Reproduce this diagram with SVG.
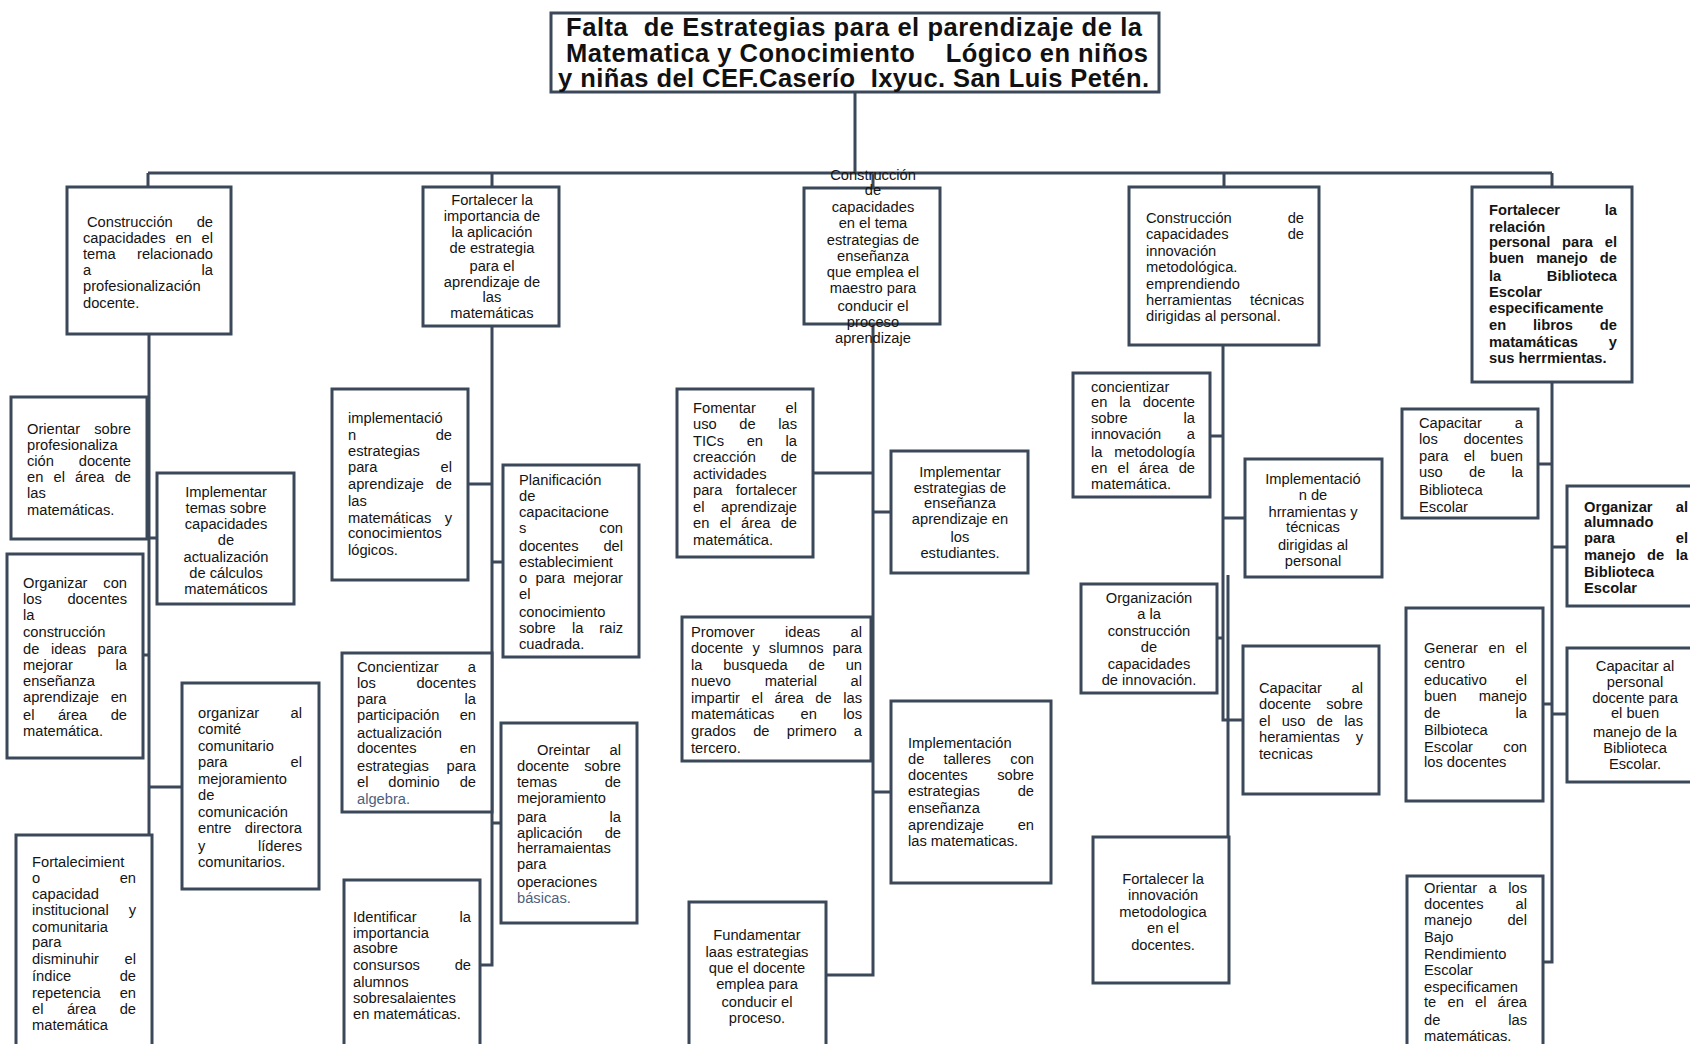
<svg xmlns="http://www.w3.org/2000/svg" width="1690" height="1044" viewBox="0 0 1690 1044">
<style>
.bx{fill:#fff;stroke:#3b4859;stroke-width:3}
.ln{fill:none;stroke:#3b4859;stroke-width:3}
text{font-family:"Liberation Sans",Arial,sans-serif;font-size:14.7px;fill:#141414}
.c{text-anchor:middle}
.e{text-anchor:end}
.b{font-weight:bold}
.ti{font-size:25.5px;font-weight:bold;fill:#111}
.bl{fill:#4d5f7e}
</style>
<rect width="1690" height="1044" fill="#fff"/>
<g id="connectors">
<path class="ln" d="M855 92V173M148 173H1552M148 173V187M492 173V187M873 173V188M1224 173V187M1552 173V187"/>
<path class="ln" d="M149 334V835M149 538H157M143 655H149M149 787H182"/>
<path class="ln" d="M492 326V965H480M468 484H492M492 562H503M492 823H501"/>
<path class="ln" d="M873 324V975H826M813 473H873M873 512H891M873 792H891"/>
<path class="ln" d="M1223 345V720H1243M1228 575V837M1210 436H1223M1223 518H1245M1217 638H1223"/>
<path class="ln" d="M1552 382V962H1543M1538 464H1552M1552 547H1567M1543 704H1552M1552 714H1567"/>
</g>
<g id="title">
<rect class="bx" x="551" y="13" width="608" height="79"/>
<text class="ti" x="566" y="36" textLength="576" lengthAdjust="spacing" xml:space="preserve">Falta  de Estrategias para el parendizaje de la</text>
<text class="ti" x="566" y="62" textLength="582" lengthAdjust="spacing" xml:space="preserve">Matematica y Conocimiento    Lógico en niños</text>
<text class="ti" x="558" y="87" textLength="591" lengthAdjust="spacing" xml:space="preserve">y niñas del CEF.Caserío  Ixyuc. San Luis Petén.</text>
</g>
<g id="n1">
<rect class="bx" x="67" y="187" width="164" height="147"/>
<text x="87" y="227">Construcción</text><text class="e" x="213" y="227">de</text>
<text x="83" y="243">capacidades</text><text x="175.4" y="243">en</text><text class="e" x="213" y="243">el</text>
<text x="83" y="259">tema</text><text class="e" x="213" y="259">relacionado</text>
<text x="83" y="275">a</text><text class="e" x="213" y="275">la</text>
<text x="83" y="291">profesionalización</text>
<text x="83" y="308">docente.</text>
</g>
<g id="n1a">
<rect class="bx" x="11" y="397" width="136" height="142"/>
<text x="27" y="434">Orientar</text><text class="e" x="131" y="434">sobre</text>
<text x="27" y="450">profesionaliza</text>
<text x="27" y="466">ción</text><text class="e" x="131" y="466">docente</text>
<text x="27" y="482">en</text><text x="53.5" y="482">el</text><text x="75.1" y="482">área</text><text class="e" x="131" y="482">de</text>
<text x="27" y="498">las</text>
<text x="27" y="515">matemáticas.</text>
</g>
<g id="n1b">
<rect class="bx" x="157" y="473" width="137" height="131"/>
<text class="c" x="226" y="497">Implementar</text>
<text class="c" x="226" y="513">temas sobre</text>
<text class="c" x="226" y="529">capacidades</text>
<text class="c" x="226" y="545">de</text>
<text class="c" x="226" y="562">actualización</text>
<text class="c" x="226" y="578">de cálculos</text>
<text class="c" x="226" y="594">matemáticos</text>
</g>
<g id="n1c">
<rect class="bx" x="7" y="554" width="136" height="204"/>
<text x="23" y="588">Organizar</text><text class="e" x="127" y="588">con</text>
<text x="23" y="604">los</text><text class="e" x="127" y="604">docentes</text>
<text x="23" y="620">la</text>
<text x="23" y="637">construcción</text>
<text x="23" y="654">de</text><text x="50.9" y="654">ideas</text><text class="e" x="127" y="654">para</text>
<text x="23" y="670">mejorar</text><text class="e" x="127" y="670">la</text>
<text x="23" y="686">enseñanza</text>
<text x="23" y="702">aprendizaje</text><text class="e" x="127" y="702">en</text>
<text x="23" y="720">el</text><text x="57.9" y="720">área</text><text class="e" x="127" y="720">de</text>
<text x="23" y="736">matemática.</text>
</g>
<g id="n1d">
<rect class="bx" x="182" y="683" width="137" height="206"/>
<text x="198" y="718">organizar</text><text class="e" x="302" y="718">al</text>
<text x="198" y="734">comité</text>
<text x="198" y="751">comunitario</text>
<text x="198" y="767">para</text><text class="e" x="302" y="767">el</text>
<text x="198" y="784">mejoramiento</text>
<text x="198" y="800">de</text>
<text x="198" y="817">comunicación</text>
<text x="198" y="833">entre</text><text class="e" x="302" y="833">directora</text>
<text x="198" y="851">y</text><text class="e" x="302" y="851">líderes</text>
<text x="198" y="867">comunitarios.</text>
</g>
<g id="n1e">
<rect class="bx" x="16" y="835" width="136" height="220"/>
<text x="32" y="867">Fortalecimient</text>
<text x="32" y="883">o</text><text class="e" x="136" y="883">en</text>
<text x="32" y="899">capacidad</text>
<text x="32" y="915">institucional</text><text class="e" x="136" y="915">y</text>
<text x="32" y="932">comunitaria</text>
<text x="32" y="947">para</text>
<text x="32" y="964">disminuhir</text><text class="e" x="136" y="964">el</text>
<text x="32" y="981">índice</text><text class="e" x="136" y="981">de</text>
<text x="32" y="998">repetencia</text><text class="e" x="136" y="998">en</text>
<text x="32" y="1014">el</text><text x="66.9" y="1014">área</text><text class="e" x="136" y="1014">de</text>
<text x="32" y="1030">matemática</text>
</g>
<g id="n2">
<rect class="bx" x="423" y="187" width="136" height="139"/>
<text class="c" x="492" y="205">Fortalecer la</text>
<text class="c" x="492" y="221">importancia de</text>
<text class="c" x="492" y="237">la aplicación</text>
<text class="c" x="492" y="253">de estrategia</text>
<text class="c" x="492" y="271">para el</text>
<text class="c" x="492" y="287">aprendizaje de</text>
<text class="c" x="492" y="302">las</text>
<text class="c" x="492" y="318">matemáticas</text>
</g>
<g id="n2a">
<rect class="bx" x="332" y="389" width="136" height="191"/>
<text x="348" y="423">implementació</text>
<text x="348" y="440">n</text><text class="e" x="452" y="440">de</text>
<text x="348" y="456">estrategias</text>
<text x="348" y="472">para</text><text class="e" x="452" y="472">el</text>
<text x="348" y="489">aprendizaje</text><text class="e" x="452" y="489">de</text>
<text x="348" y="506">las</text>
<text x="348" y="523">matemáticas</text><text class="e" x="452" y="523">y</text>
<text x="348" y="538">conocimientos</text>
<text x="348" y="555">lógicos.</text>
</g>
<g id="n2b">
<rect class="bx" x="503" y="465" width="136" height="192"/>
<text x="519" y="485">Planificación</text>
<text x="519" y="501">de</text>
<text x="519" y="517">capacitacione</text>
<text x="519" y="533">s</text><text class="e" x="623" y="533">con</text>
<text x="519" y="551">docentes</text><text class="e" x="623" y="551">del</text>
<text x="519" y="567">establecimient</text>
<text x="519" y="583">o</text><text x="535.5" y="583">para</text><text class="e" x="623" y="583">mejorar</text>
<text x="519" y="599">el</text>
<text x="519" y="617">conocimiento</text>
<text x="519" y="633">sobre</text><text x="571.9" y="633">la</text><text class="e" x="623" y="633">raiz</text>
<text x="519" y="649">cuadrada.</text>
</g>
<g id="n2c">
<rect class="bx" x="342" y="653" width="150" height="159"/>
<text x="357" y="672">Concientizar</text><text class="e" x="476" y="672">a</text>
<text x="357" y="688">los</text><text class="e" x="476" y="688">docentes</text>
<text x="357" y="704">para</text><text class="e" x="476" y="704">la</text>
<text x="357" y="720">participación</text><text class="e" x="476" y="720">en</text>
<text x="357" y="738">actualización</text>
<text x="357" y="753">docentes</text><text class="e" x="476" y="753">en</text>
<text x="357" y="771">estrategias</text><text class="e" x="476" y="771">para</text>
<text x="357" y="787">el</text><text x="388.3" y="787">dominio</text><text class="e" x="476" y="787">de</text>
<text class="bl" x="357" y="804">algebra.</text>
</g>
<g id="n2d">
<rect class="bx" x="501" y="723" width="136" height="200"/>
<text x="537" y="755">Oreintar</text><text class="e" x="621" y="755">al</text>
<text x="517" y="771">docente</text><text class="e" x="621" y="771">sobre</text>
<text x="517" y="787">temas</text><text class="e" x="621" y="787">de</text>
<text x="517" y="803">mejoramiento</text>
<text x="517" y="822">para</text><text class="e" x="621" y="822">la</text>
<text x="517" y="838">aplicación</text><text class="e" x="621" y="838">de</text>
<text x="517" y="853">herramaientas</text>
<text x="517" y="869">para</text>
<text x="517" y="887">operaciones</text>
<text class="bl" x="517" y="903">básicas.</text>
</g>
<g id="n2e">
<rect class="bx" x="344" y="880" width="136" height="175"/>
<text x="353" y="922">Identificar</text><text class="e" x="471" y="922">la</text>
<text x="353" y="938">importancia</text>
<text x="353" y="953">asobre</text>
<text x="353" y="970">consursos</text><text class="e" x="471" y="970">de</text>
<text x="353" y="987">alumnos</text>
<text x="353" y="1003">sobresalaientes</text>
<text x="353" y="1019">en matemáticas.</text>
</g>
<g id="n3">
<rect class="bx" x="804" y="188" width="136" height="136"/>
<text class="c" x="873" y="180">Construcción</text>
<text class="c" x="873" y="195">de</text>
<text class="c" x="873" y="212">capacidades</text>
<text class="c" x="873" y="228">en el tema</text>
<text class="c" x="873" y="245">estrategias de</text>
<text class="c" x="873" y="261">enseñanza</text>
<text class="c" x="873" y="277">que emplea el</text>
<text class="c" x="873" y="293">maestro para</text>
<text class="c" x="873" y="311">conducir el</text>
<text class="c" x="873" y="327">proceso</text>
<text class="c" x="873" y="343">aprendizaje</text>
</g>
<g id="n3a">
<rect class="bx" x="677" y="389" width="136" height="168"/>
<text x="693" y="413">Fomentar</text><text class="e" x="797" y="413">el</text>
<text x="693" y="429">uso</text><text x="739.3" y="429">de</text><text class="e" x="797" y="429">las</text>
<text x="693" y="446">TICs</text><text x="746.7" y="446">en</text><text class="e" x="797" y="446">la</text>
<text x="693" y="462">creacción</text><text class="e" x="797" y="462">de</text>
<text x="693" y="479">actividades</text>
<text x="693" y="495">para</text><text class="e" x="797" y="495">fortalecer</text>
<text x="693" y="512">el</text><text class="e" x="797" y="512">aprendizaje</text>
<text x="693" y="528">en</text><text x="719.5" y="528">el</text><text x="741.1" y="528">área</text><text class="e" x="797" y="528">de</text>
<text x="693" y="545">matemática.</text>
</g>
<g id="n3b">
<rect class="bx" x="891" y="451" width="137" height="122"/>
<text class="c" x="960" y="477">Implementar</text>
<text class="c" x="960" y="493">estrategias de</text>
<text class="c" x="960" y="508">enseñanza</text>
<text class="c" x="960" y="524">aprendizaje en</text>
<text class="c" x="960" y="542">los</text>
<text class="c" x="960" y="558">estudiantes.</text>
</g>
<g id="n3c">
<rect class="bx" x="682" y="617" width="189" height="144"/>
<text x="691" y="637">Promover</text><text x="785.1" y="637">ideas</text><text class="e" x="862" y="637">al</text>
<text x="691" y="653">docente</text><text x="752.4" y="653">y</text><text x="768.8" y="653">slumnos</text><text class="e" x="862" y="653">para</text>
<text x="691" y="670">la</text><text x="723.2" y="670">busqueda</text><text x="808.6" y="670">de</text><text class="e" x="862" y="670">un</text>
<text x="691" y="686">nuevo</text><text x="764.7" y="686">material</text><text class="e" x="862" y="686">al</text>
<text x="691" y="703">impartir</text><text x="751.5" y="703">el</text><text x="774.4" y="703">área</text><text x="815.3" y="703">de</text><text class="e" x="862" y="703">las</text>
<text x="691" y="719">matemáticas</text><text x="800.6" y="719">en</text><text class="e" x="862" y="719">los</text>
<text x="691" y="736">grados</text><text x="753.2" y="736">de</text><text x="786.8" y="736">primero</text><text class="e" x="862" y="736">a</text>
<text x="691" y="753">tercero.</text>
</g>
<g id="n3d">
<rect class="bx" x="891" y="701" width="160" height="182"/>
<text x="908" y="748">Implementación</text>
<text x="908" y="764">de</text><text x="943.6" y="764">talleres</text><text class="e" x="1034" y="764">con</text>
<text x="908" y="780">docentes</text><text class="e" x="1034" y="780">sobre</text>
<text x="908" y="796">estrategias</text><text class="e" x="1034" y="796">de</text>
<text x="908" y="813">enseñanza</text>
<text x="908" y="830">aprendizaje</text><text class="e" x="1034" y="830">en</text>
<text x="908" y="846">las matematicas.</text>
</g>
<g id="n3e">
<rect class="bx" x="689" y="902" width="137" height="153"/>
<text class="c" x="757" y="940">Fundamentar</text>
<text class="c" x="757" y="957">laas estrategias</text>
<text class="c" x="757" y="973">que el docente</text>
<text class="c" x="757" y="989">emplea para</text>
<text class="c" x="757" y="1007">conducir el</text>
<text class="c" x="757" y="1023">proceso.</text>
</g>
<g id="n4">
<rect class="bx" x="1129" y="187" width="190" height="158"/>
<text x="1146" y="223">Construcción</text><text class="e" x="1304" y="223">de</text>
<text x="1146" y="239">capacidades</text><text class="e" x="1304" y="239">de</text>
<text x="1146" y="256">innovación</text>
<text x="1146" y="272">metodológica.</text>
<text x="1146" y="289">emprendiendo</text>
<text x="1146" y="305">herramientas</text><text class="e" x="1304" y="305">técnicas</text>
<text x="1146" y="321">dirigidas al personal.</text>
</g>
<g id="n4a">
<rect class="bx" x="1073" y="373" width="137" height="124"/>
<text x="1091" y="392">concientizar</text>
<text x="1091" y="407">en</text><text x="1119.3" y="407">la</text><text class="e" x="1195" y="407">docente</text>
<text x="1091" y="423">sobre</text><text class="e" x="1195" y="423">la</text>
<text x="1091" y="439">innovación</text><text class="e" x="1195" y="439">a</text>
<text x="1091" y="457">la</text><text class="e" x="1195" y="457">metodología</text>
<text x="1091" y="473">en</text><text x="1117.5" y="473">el</text><text x="1139.1" y="473">área</text><text class="e" x="1195" y="473">de</text>
<text x="1091" y="489">matemática.</text>
</g>
<g id="n4b">
<rect class="bx" x="1245" y="459" width="137" height="118"/>
<text class="c" x="1313" y="484">Implementació</text>
<text class="c" x="1313" y="500">n de</text>
<text class="c" x="1313" y="517">hrramientas y</text>
<text class="c" x="1313" y="532">técnicas</text>
<text class="c" x="1313" y="550">dirigidas al</text>
<text class="c" x="1313" y="566">personal</text>
</g>
<g id="n4c">
<rect class="bx" x="1081" y="584" width="136" height="109"/>
<text class="c" x="1149" y="603">Organización</text>
<text class="c" x="1149" y="619">a la</text>
<text class="c" x="1149" y="636">construcción</text>
<text class="c" x="1149" y="652">de</text>
<text class="c" x="1149" y="669">capacidades</text>
<text class="c" x="1149" y="685">de innovación.</text>
</g>
<g id="n4d">
<rect class="bx" x="1243" y="646" width="136" height="148"/>
<text x="1259" y="693">Capacitar</text><text class="e" x="1363" y="693">al</text>
<text x="1259" y="709">docente</text><text class="e" x="1363" y="709">sobre</text>
<text x="1259" y="726">el</text><text x="1281.7" y="726">uso</text><text x="1316.6" y="726">de</text><text class="e" x="1363" y="726">las</text>
<text x="1259" y="742">heramientas</text><text class="e" x="1363" y="742">y</text>
<text x="1259" y="759">tecnicas</text>
</g>
<g id="n4e">
<rect class="bx" x="1093" y="837" width="136" height="146"/>
<text class="c" x="1163" y="884">Fortalecer la</text>
<text class="c" x="1163" y="900">innovación</text>
<text class="c" x="1163" y="917">metodologica</text>
<text class="c" x="1163" y="933">en el</text>
<text class="c" x="1163" y="950">docentes.</text>
</g>
<g id="n5">
<rect class="bx" x="1472" y="187" width="160" height="195"/>
<text class="b" x="1489" y="215">Fortalecer</text><text class="b e" x="1617" y="215">la</text>
<text class="b" x="1489" y="232">relación</text>
<text class="b" x="1489" y="247">personal</text><text class="b" x="1562" y="247">para</text><text class="b e" x="1617" y="247">el</text>
<text class="b" x="1489" y="263">buen</text><text class="b" x="1536.2" y="263">manejo</text><text class="b e" x="1617" y="263">de</text>
<text class="b" x="1489" y="281">la</text><text class="b e" x="1617" y="281">Biblioteca</text>
<text class="b" x="1489" y="297">Escolar</text>
<text class="b" x="1489" y="313">especificamente</text>
<text class="b" x="1489" y="330">en</text><text class="b" x="1533" y="330">libros</text><text class="b e" x="1617" y="330">de</text>
<text class="b" x="1489" y="347">matamáticas</text><text class="b e" x="1617" y="347">y</text>
<text class="b" x="1489" y="363">sus herrmientas.</text>
</g>
<g id="n5a">
<rect class="bx" x="1402" y="409" width="136" height="109"/>
<text x="1419" y="428">Capacitar</text><text class="e" x="1523" y="428">a</text>
<text x="1419" y="444">los</text><text class="e" x="1523" y="444">docentes</text>
<text x="1419" y="461">para</text><text x="1463.7" y="461">el</text><text class="e" x="1523" y="461">buen</text>
<text x="1419" y="477">uso</text><text x="1469" y="477">de</text><text class="e" x="1523" y="477">la</text>
<text x="1419" y="495">Biblioteca</text>
<text x="1419" y="512">Escolar</text>
</g>
<g id="n5b">
<rect class="bx" x="1567" y="486" width="140" height="120"/>
<text class="b" x="1584" y="512">Organizar</text><text class="b e" x="1688" y="512">al</text>
<text class="b" x="1584" y="527">alumnado</text>
<text class="b" x="1584" y="543">para</text><text class="b e" x="1688" y="543">el</text>
<text class="b" x="1584" y="560">manejo</text><text class="b" x="1647" y="560">de</text><text class="b e" x="1688" y="560">la</text>
<text class="b" x="1584" y="577">Biblioteca</text>
<text class="b" x="1584" y="593">Escolar</text>
</g>
<g id="n5c">
<rect class="bx" x="1406" y="608" width="137" height="193"/>
<text x="1424" y="653">Generar</text><text x="1488.6" y="653">en</text><text class="e" x="1527" y="653">el</text>
<text x="1424" y="668">centro</text>
<text x="1424" y="685">educativo</text><text class="e" x="1527" y="685">el</text>
<text x="1424" y="701">buen</text><text class="e" x="1527" y="701">manejo</text>
<text x="1424" y="718">de</text><text class="e" x="1527" y="718">la</text>
<text x="1424" y="735">Bilbioteca</text>
<text x="1424" y="752">Escolar</text><text class="e" x="1527" y="752">con</text>
<text x="1424" y="767">los docentes</text>
</g>
<g id="n5d">
<rect class="bx" x="1567" y="648" width="140" height="134"/>
<text class="c" x="1635" y="671">Capacitar al</text>
<text class="c" x="1635" y="687">personal</text>
<text class="c" x="1635" y="703">docente para</text>
<text class="c" x="1635" y="718">el buen</text>
<text class="c" x="1635" y="737">manejo de la</text>
<text class="c" x="1635" y="753">Biblioteca</text>
<text class="c" x="1635" y="769">Escolar.</text>
</g>
<g id="n5e">
<rect class="bx" x="1407" y="876" width="136" height="180"/>
<text x="1424" y="893">Orientar</text><text x="1488.6" y="893">a</text><text class="e" x="1527" y="893">los</text>
<text x="1424" y="909">docentes</text><text class="e" x="1527" y="909">al</text>
<text x="1424" y="925">manejo</text><text class="e" x="1527" y="925">del</text>
<text x="1424" y="942">Bajo</text>
<text x="1424" y="959">Rendimiento</text>
<text x="1424" y="975">Escolar</text>
<text x="1424" y="992">especificamen</text>
<text x="1424" y="1007">te</text><text x="1447.5" y="1007">en</text><text x="1475" y="1007">el</text><text class="e" x="1527" y="1007">área</text>
<text x="1424" y="1025">de</text><text class="e" x="1527" y="1025">las</text>
<text x="1424" y="1041">matemáticas.</text>
</g>
</svg>
